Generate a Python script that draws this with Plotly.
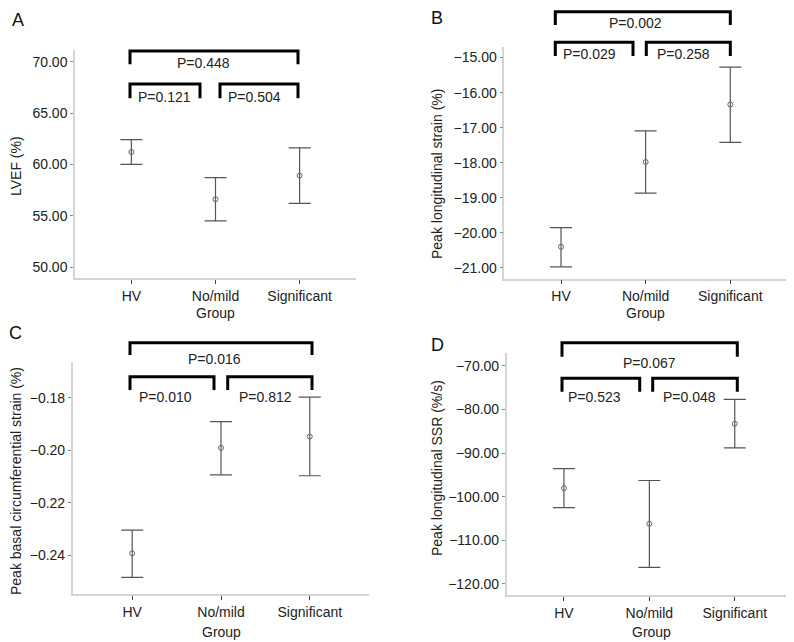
import plotly.graph_objects as go

# page body has an 8px default margin; the figure is sized to fit the window
OFF = 8
W, H = 786, 634

groups = ["HV", "No/mild", "Significant"]

lvef_mean = [61.2, 56.6, 58.9]
lvef_low = [60.0, 54.5, 56.2]
lvef_high = [62.4, 58.7, 61.6]

pls_mean = [-20.40, -17.98, -16.34]
pls_low = [-20.97, -18.87, -17.42]
pls_high = [-19.85, -17.09, -15.27]

pbcs_mean = [-0.2392, -0.1991, -0.1948]
pbcs_low = [-0.2484, -0.2094, -0.2097]
pbcs_high = [-0.2304, -0.1891, -0.1798]

ssr_mean = [-98.05, -106.2, -83.3]
ssr_low = [-102.5, -116.2, -88.8]
ssr_high = [-93.57, -96.3, -77.7]

lvef_ticks = [50, 55, 60, 65, 70]
pls_ticks = [-21, -20, -19, -18, -17, -16, -15]
pbcs_ticks = [-0.24, -0.22, -0.20, -0.18]
ssr_ticks = [-120, -110, -100, -90, -80, -70]

p_values = {
    "A": ["P=0.448", "P=0.121", "P=0.504"],
    "B": ["P=0.002", "P=0.029", "P=0.258"],
    "C": ["P=0.016", "P=0.010", "P=0.812"],
    "D": ["P=0.067", "P=0.523", "P=0.048"],
}

# panel layout in window pixels: (left, right, top, bottom), y range, ticks, title
panels = [
    dict(key="A", box=(75, 356, 50, 278.3), yr=(48.9, 71.14), ticks=lvef_ticks, fmt=".2f",
         mean=lvef_mean, lo=lvef_low, hi=lvef_high, ytitle="LVEF (%)", ytpos=(16, 166),
         gpos=(215, 313), letter=(18, 20),
         brackets=[(130, 298, 51, 64.3), (130, 200, 84, 98.3), (220, 298, 84, 98.3)],
         ptext=[(203, 63), (164, 97), (254, 97)]),
    dict(key="B", box=(504.3, 787, 46.7, 278.7), yr=(-21.31, -14.69), ticks=pls_ticks, fmt=".2f",
         mean=pls_mean, lo=pls_low, hi=pls_high, ytitle="Peak longitudinal strain (%)", ytpos=(437, 174),
         gpos=(645, 313), letter=(437, 18),
         brackets=[(555.3, 730.3, 11.7, 25), (555.3, 633, 42.3, 56), (646.3, 730.3, 42.3, 56)],
         ptext=[(635.3, 22.7), (589.7, 54.3), (683.7, 54.3)]),
    dict(key="C", box=(72.7, 369.3, 361.7, 594), yr=(-0.2547, -0.1663), ticks=pbcs_ticks, fmt=".2f",
         mean=pbcs_mean, lo=pbcs_low, hi=pbcs_high, ytitle="Peak basal circumferential strain (%)",
         ytpos=(16, 481), gpos=(221, 632), letter=(15, 333),
         brackets=[(130, 312, 342.7, 355), (130, 214, 376.7, 390), (227.7, 312, 376.7, 390)],
         ptext=[(214.3, 359.3), (165, 397.3), (265, 397.3)]),
    dict(key="D", box=(506.7, 792, 353.3, 595.3), yr=(-122.59, -67.16), ticks=ssr_ticks, fmt=".2f",
         mean=ssr_mean, lo=ssr_low, hi=ssr_high, ytitle="Peak longitudinal SSR (%/s)",
         ytpos=(437, 468), gpos=(651, 632), letter=(437, 345),
         brackets=[(562, 737.3, 342.7, 356.7), (562, 639.7, 378.3, 391.7), (652.7, 737.3, 378.3, 391.7)],
         ptext=[(649.3, 362.7), (594.7, 397.3), (689.3, 397.3)]),
]

FONT = "Liberation Sans, Arial, sans-serif"
TXT = "#222222"

def px(x):
    return (x - OFF) / W

def py(y):
    return 1 - (y - OFF) / H

fig = go.Figure()
shapes = []
annotations = []

for i, p in enumerate(panels):
    n = i + 1
    xa = "x" if n == 1 else f"x{n}"
    ya = "y" if n == 1 else f"y{n}"
    l, r, t, b = p["box"]
    err_plus = [h - m for h, m in zip(p["hi"], p["mean"])]
    err_minus = [m - lo for m, lo in zip(p["mean"], p["lo"])]
    fig.add_trace(go.Scatter(
        x=groups, y=p["mean"], mode="markers", xaxis=xa, yaxis=ya,
        marker=dict(symbol="circle-open", size=5, color="#666666", line=dict(width=1)),
        error_y=dict(type="data", array=err_plus, arrayminus=err_minus, symmetric=False,
                     color="#555555", thickness=1.2, width=11),
        showlegend=False, hoverinfo="skip",
    ))
    axkey = "xaxis" if n == 1 else f"xaxis{n}"
    aykey = "yaxis" if n == 1 else f"yaxis{n}"
    fig.update_layout(**{
        axkey: dict(domain=[px(l), min(px(r), 1)], anchor=ya, type="category", range=[-0.67, 2.67],
                    showline=True, linecolor="#d4d4d4", linewidth=1.5, showgrid=False, zeroline=False,
                    ticks="outside", ticklen=4, tickcolor="#444444", tickwidth=1,
                    tickfont=dict(family=FONT, size=14, color=TXT), automargin=False),
        aykey: dict(domain=[py(b), py(t)], anchor=xa, range=list(p["yr"]),
                    tickvals=p["ticks"], tickformat=p["fmt"],
                    showline=True, linecolor="#d4d4d4", linewidth=1.5, showgrid=False, zeroline=False,
                    ticks="outside", ticklen=3, tickcolor="#888888", tickwidth=1,
                    tickfont=dict(family=FONT, size=14, color=TXT), automargin=False),
    })
    # brackets
    for (x0, x1, yh, yl) in p["brackets"]:
        path = (f"M {px(x0)},{py(yl)} L {px(x0)},{py(yh)} "
                f"L {px(x1)},{py(yh)} L {px(x1)},{py(yl)}")
        shapes.append(dict(type="path", xref="paper", yref="paper", path=path,
                           line=dict(color="black", width=3)))
    for txt, (tx, ty) in zip(p_values[p["key"]], p["ptext"]):
        annotations.append(dict(text=txt, x=px(tx), y=py(ty), xref="paper", yref="paper",
                                showarrow=False, xanchor="center", yanchor="middle",
                                font=dict(family=FONT, size=14, color=TXT)))
    annotations.append(dict(text=p["ytitle"], x=px(p["ytpos"][0]), y=py(p["ytpos"][1]),
                            xref="paper", yref="paper", showarrow=False, textangle=-90,
                            xanchor="center", yanchor="middle",
                            font=dict(family=FONT, size=14, color=TXT)))
    annotations.append(dict(text="Group", x=px(p["gpos"][0]), y=py(p["gpos"][1]),
                            xref="paper", yref="paper", showarrow=False,
                            xanchor="center", yanchor="middle",
                            font=dict(family=FONT, size=14, color=TXT)))
    annotations.append(dict(text=p["key"], x=px(p["letter"][0]), y=py(p["letter"][1]),
                            xref="paper", yref="paper", showarrow=False,
                            xanchor="center", yanchor="middle",
                            font=dict(family=FONT, size=18, color="#111111")))

fig.update_layout(
    width=W, height=H, margin=dict(l=0, r=0, t=0, b=0),
    paper_bgcolor="white", plot_bgcolor="white",
    shapes=shapes, annotations=annotations,
)

fig.write_html("out.html")
